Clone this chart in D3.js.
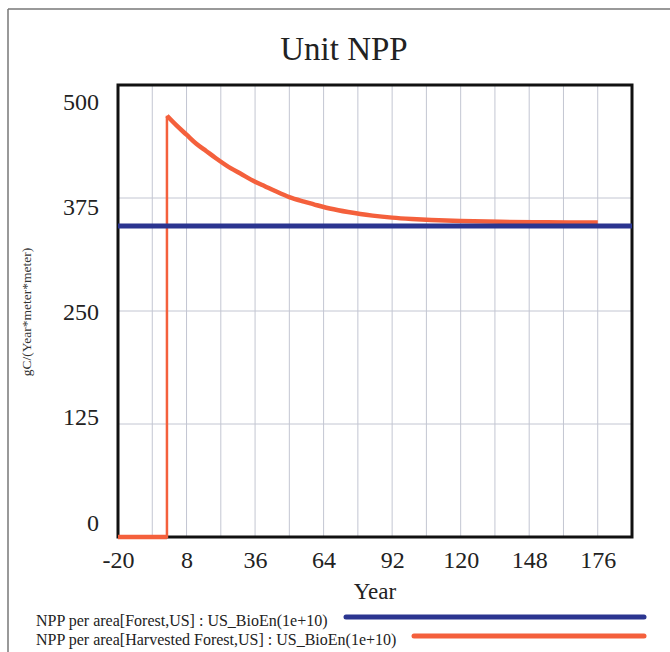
<!DOCTYPE html>
<html><head><meta charset="utf-8">
<script src="https://cdn.jsdelivr.net/npm/d3@7"></script>
<style>body{margin:0;background:#fff}svg{display:block}</style>
</head><body>
<script>
// ---- data ----
const yTicks = [0, 125, 250, 375, 500];
const xTicks = [-20, 8, 36, 64, 92, 120, 148, 176];
const xGrid = [-6, 8, 22, 36, 50, 64, 78, 92, 106, 120, 134, 148, 162, 176];
const yGrid = [125, 250, 375];
const forestYears = [-20, 190];
const forestValues = [344, 344];
const harvestYears = [-20, 0, 0, 4, 8, 12, 16, 20, 26, 30, 36, 40, 44, 50, 56, 60, 64, 70, 74, 79, 84, 92, 100, 108, 120, 136, 150, 164, 176];
const harvestValues = [0, 0, 466, 455, 445, 435, 427, 419, 408, 402, 393, 388, 383, 376, 371, 368, 365, 361.5, 359.5, 357.3, 355.5, 353.3, 351.8, 350.7, 349.5, 348.6, 348.2, 348, 348];
const legendLabels = ["NPP per area[Forest,US] : US_BioEn(1e+10)", "NPP per area[Harvested Forest,US] : US_BioEn(1e+10)"];
const colors = ["#2b3590", "#f4603c"];

const W = 670, H = 652;
const svg = d3.select("body").append("svg").attr("width", W).attr("height", H);
const serif = "'Liberation Serif','Times New Roman',serif";

// frame
svg.append("line").attr("x1", 8).attr("x2", W).attr("y1", 9).attr("y2", 9).attr("stroke", "#777").attr("stroke-width", 1.5);
svg.append("line").attr("x1", 8).attr("x2", 8).attr("y1", 9).attr("y2", H).attr("stroke", "#777").attr("stroke-width", 1.5);

const x = d3.scaleLinear().domain([-20, 190]).range([118, 632]);
const y = d3.scaleLinear().domain([0, 500]).range([537, 85]);
const yLab = d3.scaleLinear().domain([0, 500]).range([530, 109]);

// title
svg.append("text").attr("x", 344).attr("y", 60).attr("text-anchor", "middle")
  .attr("font-family", serif).attr("font-size", 33).attr("fill", "#222").text("Unit NPP");

// grid
svg.append("g").selectAll("line").data(xGrid).join("line")
  .attr("x1", d => x(d)).attr("x2", d => x(d)).attr("y1", y(500)).attr("y2", y(0))
  .attr("stroke", "#c3c6d2").attr("stroke-width", 1);
svg.append("g").selectAll("line").data(yGrid).join("line")
  .attr("x1", x(-20)).attr("x2", x(190)).attr("y1", d => y(d)).attr("y2", d => y(d))
  .attr("stroke", "#c3c6d2").attr("stroke-width", 1);

// plot border
svg.append("rect").attr("x", x(-20)).attr("y", y(500)).attr("width", x(190) - x(-20)).attr("height", y(0) - y(500))
  .attr("fill", "none").attr("stroke", "#111").attr("stroke-width", 3);

// x axis labels
const xAxis = d3.axisBottom(x).tickValues(xTicks).tickSize(0).tickPadding(0).tickFormat(d => String(d));
const gx = svg.append("g").attr("transform", "translate(0,568)").call(xAxis);
gx.select(".domain").remove();
gx.selectAll("text").attr("dy", 0).attr("font-family", serif).attr("font-size", 24).attr("fill", "#222");

// y axis labels
const yAxis = d3.axisLeft(yLab).tickValues(yTicks).tickSize(0).tickPadding(0).tickFormat(d => String(d));
const gy = svg.append("g").attr("transform", "translate(99,0)").call(yAxis);
gy.select(".domain").remove();
gy.selectAll("text").attr("dy", 0).attr("font-family", serif).attr("font-size", 24).attr("fill", "#222");

// axis titles
svg.append("text").attr("x", 375).attr("y", 599).attr("text-anchor", "middle")
  .attr("font-family", serif).attr("font-size", 23).attr("fill", "#222").text("Year");
svg.append("text").attr("transform", "translate(31,312) rotate(-90)").attr("text-anchor", "middle")
  .attr("font-family", serif).attr("font-size", 13.5).attr("fill", "#333").text("gC/(Year*meter*meter)");

// series
const line = d3.line().x(d => x(d[0])).y(d => y(d[1]));
const smooth = d3.line().x(d => x(d[0])).y(d => y(d[1])).curve(d3.curveMonotoneX);
const harvest = harvestYears.map((t, i) => [t, harvestValues[i]]);
const forest = forestYears.map((t, i) => [t, forestValues[i]]);
svg.append("path").attr("d", line(harvest.slice(0, 3))).attr("fill", "none").attr("stroke", colors[1]).attr("stroke-width", 2.5);
svg.append("path").attr("d", line(harvest.slice(0, 2))).attr("fill", "none").attr("stroke", colors[1]).attr("stroke-width", 4.5);
svg.append("path").attr("d", smooth(harvest.slice(2))).attr("fill", "none").attr("stroke", colors[1]).attr("stroke-width", 4.5).attr("stroke-linejoin", "round");
svg.append("path").attr("d", line(forest)).attr("fill", "none").attr("stroke", colors[0]).attr("stroke-width", 5);

// legend
const legY = [625.5, 644.5];
const legLineY = [617, 636];
const legLineX0 = [346, 414];
legendLabels.forEach((lab, i) => {
  svg.append("text").attr("x", 36).attr("y", legY[i]).attr("font-family", serif).attr("font-size", 16)
    .attr("fill", "#222").text(lab);
  svg.append("line").attr("x1", legLineX0[i]).attr("x2", 644).attr("y1", legLineY[i]).attr("y2", legLineY[i])
    .attr("stroke", colors[i]).attr("stroke-width", 5).attr("stroke-linecap", "round");
});
</script>
</body></html>
